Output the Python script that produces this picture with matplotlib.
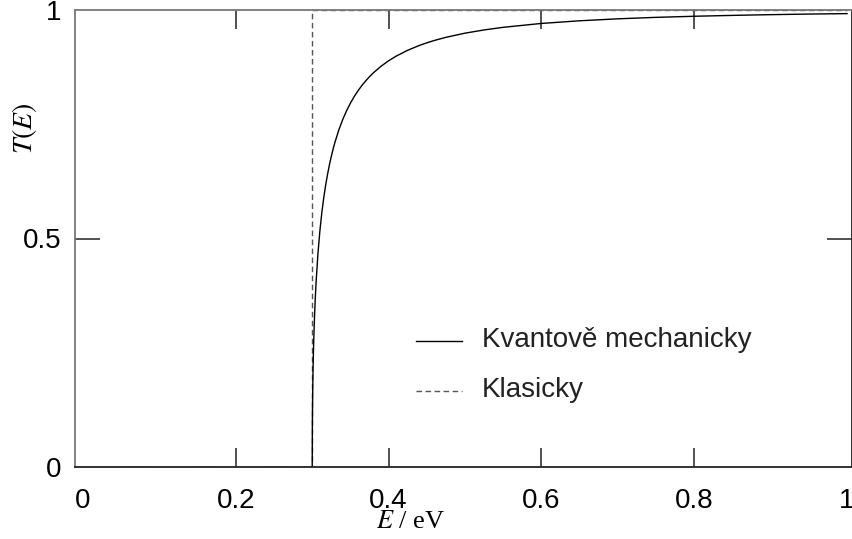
import matplotlib.pyplot as plt

# transmission through a 0.3 eV potential step
energy = [0.3, 0.3002, 0.3005, 0.301, 0.3015, 0.302, 0.303, 0.304, 0.305,
          0.3075, 0.31, 0.3125, 0.315, 0.3175, 0.32, 0.3225, 0.325, 0.3275, 0.33,
          0.335, 0.34, 0.345, 0.35, 0.355, 0.36, 0.365, 0.37, 0.375, 0.38, 0.39,
          0.4, 0.41, 0.425, 0.44, 0.45, 0.46, 0.475, 0.5, 0.525, 0.55, 0.6, 0.65,
          0.7, 0.75, 0.8, 0.85, 0.9, 0.95, 1.0]
t_quantum = [0.0, 0.0981, 0.1506, 0.2061, 0.2462, 0.2784, 0.3292, 0.3693, 0.4025,
             0.4673, 0.5163, 0.5556, 0.5882, 0.6159, 0.6400, 0.6611, 0.6799, 0.6968, 0.7120,
             0.7384, 0.7607, 0.7797, 0.7962, 0.8107, 0.8234, 0.8348, 0.8449, 0.8541, 0.8624, 0.8768,
             0.8889, 0.8992, 0.9119, 0.9223, 0.9282, 0.9334, 0.9402, 0.9493, 0.9564, 0.9621, 0.9706, 0.9764,
             0.9807, 0.9839, 0.9863, 0.9882, 0.9898, 0.9911, 0.9921]

energy_cl = [0.0, 0.3, 0.3, 1.0]
t_classic = [0.0, 0.0, 1.0, 1.0]

xticks = [0, 0.2, 0.4, 0.6, 0.8, 1]
xticklabels = ['0', '0.2', '0.4', '0.6', '0.8', '1']
yticks = [0, 0.5, 1]
yticklabels = ['0', '0.5', '1']

W, H = 853, 539
fig = plt.figure(figsize=(W / 100, H / 100), dpi=100)
ax = fig.add_axes([75 / W, 1 - 467 / H, 777 / W, 457 / H])

dash = (0, (4, 2.5))
ax.plot(energy_cl, t_classic, color='#555555', lw=1.0, ls=dash, zorder=1)
ax.plot(energy, t_quantum, color='black', lw=1.0, zorder=2)

ax.set_xlim(-0.0105, 1.0065)
ax.set_ylim(0, 1)

sans = 'Liberation Sans'
ax.set_xticks(xticks)
ax.set_xticklabels(xticklabels, fontsize=20, family=sans)
ax.set_yticks(yticks)
ax.set_yticklabels(yticklabels, fontsize=20, family=sans)
ax.tick_params(axis='x', direction='in', length=14, width=1.3, color='#444444',
               top=True, pad=15)
ax.tick_params(axis='y', direction='in', length=18, width=1.3, color='#444444',
               right=True, pad=10)
for tk in [ax.xaxis.get_major_ticks()[0], ax.xaxis.get_major_ticks()[-1],
           ax.yaxis.get_major_ticks()[0], ax.yaxis.get_major_ticks()[-1]]:
    tk.tick1line.set_visible(False)
    tk.tick2line.set_visible(False)

for side in ['left', 'top']:
    ax.spines[side].set_color('#777777')
for side in ['bottom', 'right']:
    ax.spines[side].set_color('#222222')
for sp in ax.spines.values():
    sp.set_linewidth(1.3)

# axis labels
fig.text(411 / W, 1 - 522 / H, r'$\mathit{E}$ / eV', ha='center', va='center',
         fontsize=19, family='Liberation Serif', math_fontfamily='stix')
fig.text(25 / W, 1 - 128 / H, r'$\mathit{T(E)}$', ha='center', va='center',
         rotation=90, fontsize=20, math_fontfamily='stix')

# legend
lx0, lx1 = 416, 462
for y, style, col, label in [(341, '-', 'black', 'Kvantově mechanicky'),
                             (391, dash, '#555555', 'Klasicky')]:
    fig.add_artist(plt.Line2D([lx0 / W, lx1 / W], [1 - y / H, 1 - y / H],
                              color=col, lw=1.0, ls=style))
    fig.text(482 / W, 1 - (y - 1) / H, label, ha='left', va='center',
             fontsize=20, family=sans, color='#222222')

fig.savefig('out.png', dpi=100)
